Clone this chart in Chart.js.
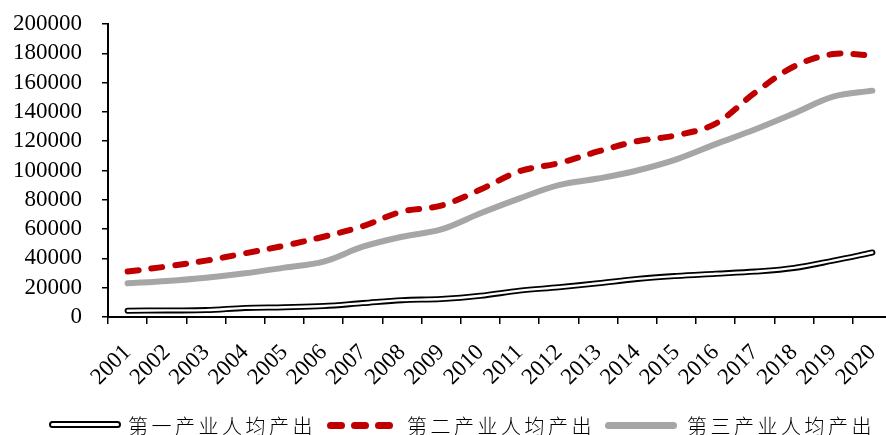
<!DOCTYPE html>
<html>
<head>
<meta charset="utf-8">
<script src="https://cdn.jsdelivr.net/npm/chart.js@4"></script>
<style>
  html, body { margin: 0; padding: 0; background: #fff; overflow: hidden; width: 886px; height: 435px; }
  #wrap { position: absolute; left: 0; top: 0; width: 900px; height: 435px; }
  #legend { position: absolute; left: 0; top: 0; width: 886px; height: 435px; pointer-events: none; }
  .sym { position: absolute; box-sizing: border-box; }
  .txt { position: absolute; top: 414px; font-family: "Noto Sans CJK SC", sans-serif; font-size: 20px; line-height: 24px; letter-spacing: 3.5px; color: #000; white-space: nowrap; font-weight: 300; }
</style>
</head>
<body>
<div id="wrap"><canvas id="c" width="900" height="435"></canvas></div>
<div id="legend"></div>
<script>
// ---- data ----
const years = ["2001","2002","2003","2004","2005","2006","2007","2008","2009","2010","2011","2012","2013","2014","2015","2016","2017","2018","2019","2020"];
const primaryOutput   = [4300, 4500, 4700, 6200, 6700, 7500, 9500, 11500, 12300, 14500, 18000, 20300, 23000, 26000, 28000, 29500, 31000, 33500, 38500, 44000];
const secondaryOutput = [31000, 34500, 38500, 43500, 48700, 54800, 62000, 72000, 76000, 87000, 99500, 105000, 113000, 120000, 124000, 132000, 153000, 171000, 179500, 178500];
const tertiaryOutput  = [23000, 24600, 26800, 29800, 33700, 37800, 48000, 54800, 59800, 70800, 81000, 90000, 94500, 100000, 107600, 118000, 128000, 139000, 150400, 154500];
const seriesNames = ["第一产业人均产出", "第二产业人均产出", "第三产业人均产出"];
const yTicks = [0, 20000, 40000, 60000, 80000, 100000, 120000, 140000, 160000, 180000, 200000];

const RED = "#C00000", GRAY = "#A6A6A6";
const tension = 0.35;
const common = { pointRadius: 0, tension, fill: false, borderCapStyle: "round", borderJoinStyle: "round" };

new Chart(document.getElementById("c"), {
  type: "line",
  data: {
    labels: years,
    datasets: [
      // first dataset is drawn on top in Chart.js
      Object.assign({ label: seriesNames[0] + "_inner", data: primaryOutput, borderColor: "#fff", borderWidth: 2.4 }, common),
      Object.assign({ label: seriesNames[0], data: primaryOutput, borderColor: "#000", borderWidth: 6 }, common),
      Object.assign({ label: seriesNames[1], data: secondaryOutput, borderColor: RED, borderWidth: 6, borderDash: [11, 13] }, common),
      Object.assign({ label: seriesNames[2], data: tertiaryOutput, borderColor: GRAY, borderWidth: 6 }, common)
    ]
  },
  options: {
    responsive: false,
    animation: false,
    devicePixelRatio: 1,
    layout: { padding: { top: 24, right: 8, left: 0, bottom: 0 } },
    plugins: { legend: { display: false }, tooltip: { enabled: false } },
    scales: {
      x: {
        offset: true,
        grid: { offset: true, drawOnChartArea: false, drawTicks: true, tickLength: 7, color: "#000", lineWidth: 1.5 },
        border: { display: true, color: "#000", width: 2 },
        ticks: { maxRotation: 45, minRotation: 45, autoSkip: false, padding: 15, color: "#000", font: { family: "Liberation Serif", size: 23 } },
        afterFit: s => { s.height = 118; s.paddingLeft = 0; s.paddingRight = 0; }
      },
      y: {
        min: 0, max: 200000,
        afterBuildTicks: s => { s.ticks = yTicks.map(v => ({ value: v })); },
        grid: { drawOnChartArea: false, drawTicks: true, tickLength: 6, color: "#000", lineWidth: 1.5 },
        border: { display: true, color: "#000", width: 2 },
        ticks: { autoSkip: false, padding: 20, color: "#000", font: { family: "Liberation Serif", size: 23 }, callback: v => String(v) },
        afterFit: s => { s.width = 108; s.paddingTop = 0; s.paddingBottom = 0; }
      }
    }
  }
});

// ---- HTML legend ----
const lg = document.getElementById("legend");
function add(html) { lg.insertAdjacentHTML("beforeend", html); }
// black double line
add('<div class="sym" style="left:49px;top:421px;width:72px;height:7px;border:2px solid #000;border-radius:4px;background:#fff"></div>');
add('<div class="txt" style="left:128px">' + seriesNames[0] + '</div>');
// red dashes
[327, 351, 375].forEach(x => add('<div class="sym" style="left:' + x + 'px;top:422px;width:18px;height:7px;background:' + RED + ';border-radius:4px"></div>'));
add('<div class="txt" style="left:407px">' + seriesNames[1] + '</div>');
// gray line
add('<div class="sym" style="left:605px;top:422px;width:72px;height:7px;background:' + GRAY + ';border-radius:4px"></div>');
add('<div class="txt" style="left:687px">' + seriesNames[2] + '</div>');
</script>
</body>
</html>
